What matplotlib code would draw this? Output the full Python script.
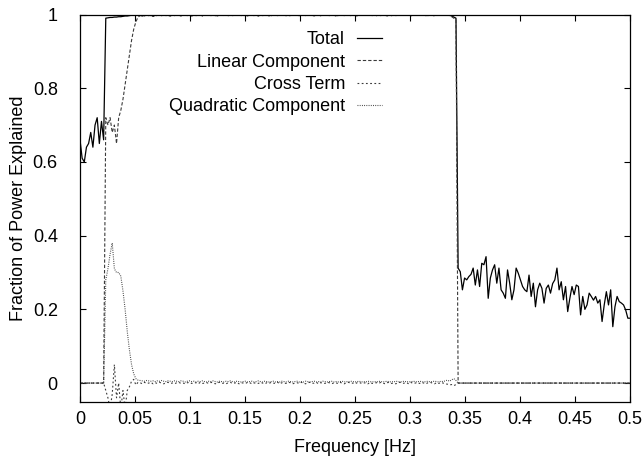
import numpy as np
import matplotlib
matplotlib.use("Agg")
import matplotlib.pyplot as plt

plt.rcParams['font.family'] = ['Liberation Sans', 'DejaVu Sans']

# ---------------- data ----------------
freq = np.arange(257) / 512.0          # Hz, 0 ... 0.5

total_low = [0.66, 0.61, 0.60, 0.64, 0.65, 0.68, 0.64, 0.70, 0.72, 0.65, 0.71, 0.66]
total_mid = [
    0.990, 0.991, 0.992, 0.992, 0.993, 0.993, 0.994, 0.994, 0.995, 0.996, 0.996, 0.997, 0.998, 0.998, 0.999, 0.999,
    0.998, 0.996, 0.999, 1.000, 0.997, 0.999, 0.995, 0.998, 1.000, 0.999, 0.997, 0.999, 1.000, 0.998, 0.996, 0.999,
    1.000, 0.998, 0.999, 0.997, 1.000, 0.999, 0.998, 1.000, 0.996, 0.999, 1.000, 0.998, 0.999, 0.997, 1.000, 0.999,
    0.998, 1.000, 0.999, 0.997, 0.999, 1.000, 0.998, 0.999, 1.000, 0.997, 0.999, 0.998, 1.000, 0.999, 0.998, 1.000,
    0.999, 0.997, 1.000, 0.999, 0.998, 1.000, 0.999, 0.996, 0.999, 1.000, 0.998, 0.999, 1.000, 0.997, 0.999, 1.000,
    0.998, 0.999, 1.000, 0.998, 0.997, 1.000, 0.999, 0.998, 1.000, 0.999, 0.997, 0.999, 1.000, 0.998, 0.999, 1.000,
    0.999, 0.998, 1.000, 0.999, 0.997, 0.999, 1.000, 0.998, 0.999, 1.000, 0.998, 0.999, 0.997, 1.000, 0.999, 0.998,
    1.000, 0.999, 0.998, 1.000, 0.999, 0.997, 1.000, 0.999, 0.998, 0.999, 1.000, 0.998, 0.999, 1.000, 0.997, 0.999,
    1.000, 0.998, 0.999, 1.000, 0.999, 0.997, 0.999, 1.000, 0.998, 0.999, 1.000, 0.999, 0.998, 1.000, 0.999, 0.998,
    0.999, 1.000, 0.998, 0.999, 1.000, 0.997, 0.999, 1.000, 0.998, 0.999, 1.000, 0.999, 0.998, 0.999, 1.000, 0.999,
    0.998, 0.996, 0.993, 0.990,
]
total_high = [
    0.312, 0.302, 0.253, 0.285, 0.280, 0.289, 0.295, 0.312, 0.266, 0.307,
    0.262, 0.325, 0.321, 0.343, 0.230, 0.285, 0.307, 0.321, 0.271, 0.312,
    0.253, 0.244, 0.230, 0.307, 0.271, 0.226, 0.253, 0.312, 0.298, 0.280,
    0.262, 0.253, 0.248, 0.293, 0.235, 0.271, 0.207, 0.253, 0.271, 0.257,
    0.217, 0.257, 0.266, 0.244, 0.270, 0.280, 0.312, 0.253, 0.275, 0.226,
    0.262, 0.194, 0.230, 0.262, 0.240, 0.266, 0.262, 0.185, 0.235, 0.200,
    0.212, 0.244, 0.235, 0.225, 0.235, 0.217, 0.226, 0.167, 0.212, 0.248,
    0.212, 0.253, 0.153, 0.207, 0.235, 0.221, 0.217, 0.212, 0.198, 0.176,
    0.176,
]

linear_rise = [0.72, 0.70, 0.72, 0.68, 0.70, 0.65, 0.72, 0.74, 0.77, 0.81, 0.85, 0.89, 0.93, 0.96, 0.98, 0.993]
linear_mid = [
    0.997, 0.998, 0.996, 0.999, 0.998, 0.997, 0.999, 0.998, 0.996, 0.999, 0.998, 0.999, 0.997, 0.998, 0.999, 0.998,
    0.997, 0.999, 0.998, 0.996, 0.999, 0.998, 0.997, 0.999, 0.998, 0.999, 0.997, 0.998, 0.999, 0.996, 0.998, 0.999,
    0.998, 0.997, 0.999, 0.998, 0.996, 0.999, 0.998, 0.997, 0.999, 0.998, 0.999, 0.997, 0.998, 0.999, 0.998, 0.997,
    0.999, 0.998, 0.996, 0.999, 0.998, 0.997, 0.999, 0.998, 0.999, 0.997, 0.998, 0.999, 0.996, 0.998, 0.999, 0.998,
    0.997, 0.999, 0.998, 0.999, 0.997, 0.998, 0.996, 0.999, 0.998, 0.997, 0.999, 0.998, 0.999, 0.997, 0.998, 0.999,
    0.998, 0.996, 0.999, 0.998, 0.997, 0.999, 0.998, 0.999, 0.997, 0.998, 0.999, 0.996, 0.998, 0.999, 0.998, 0.997,
    0.999, 0.998, 0.997, 0.999, 0.998, 0.996, 0.999, 0.998, 0.997, 0.999, 0.998, 0.999, 0.997, 0.998, 0.999, 0.998,
    0.997, 0.999, 0.998, 0.996, 0.999, 0.998, 0.999, 0.997, 0.998, 0.999, 0.998, 0.997, 0.999, 0.998, 0.996, 0.999,
    0.998, 0.999, 0.997, 0.998, 0.999, 0.998, 0.997, 0.999, 0.998, 0.996, 0.999, 0.998, 0.997, 0.999, 0.998, 0.999,
    0.997, 0.994, 0.990, 0.985,
]

cross_rise = [-0.02, -0.04, -0.07, -0.03, 0.05, -0.04, 0.00, -0.07, -0.02, -0.07, -0.02, -0.01, 0.005, 0.010, -0.005, 0.002]
cross_mid = [
    0.001, -0.002, 0.002, -0.001, 0.000, 0.002, -0.002, 0.001, -0.001, 0.002, 0.000, -0.002, 0.001, 0.002, -0.001, 0.000,
    -0.002, 0.001, 0.002, -0.001, 0.000, -0.002, 0.001, 0.002, -0.001, 0.000, 0.001, -0.002, 0.002, -0.001, 0.000, 0.001,
    -0.001, 0.002, 0.000, -0.002, 0.001, 0.002, -0.001, 0.000, -0.002, 0.001, 0.002, -0.001, 0.000, 0.002, -0.002, 0.001,
    0.000, -0.001, 0.002, 0.001, -0.002, 0.000, 0.001, -0.001, 0.002, 0.000, -0.002, 0.001, -0.001, 0.002, 0.000, -0.001,
    0.002, -0.002, 0.001, 0.000, -0.001, 0.002, 0.001, -0.002, 0.000, 0.001, -0.001, 0.002, 0.000, -0.002, 0.001, 0.002,
    -0.001, 0.000, 0.002, -0.002, 0.001, 0.000, -0.001, 0.002, 0.001, -0.002, 0.000, 0.001, -0.001, 0.002, 0.000, -0.002,
    0.001, 0.002, -0.001, 0.000, -0.002, 0.001, 0.002, -0.001, 0.000, 0.001, -0.002, 0.002, -0.001, 0.000, 0.001, -0.001,
    0.002, 0.000, -0.002, 0.001, 0.002, -0.001, 0.000, -0.002, 0.001, 0.002, -0.001, 0.000, 0.001, -0.002, 0.002, -0.001,
    0.000, 0.001, -0.001, 0.002, 0.000, -0.002, 0.001, 0.002, 0.000, -0.002, 0.001, -0.001, 0.002, 0.000, -0.002, -0.003,
    -0.005, -0.004, -0.007, -0.004,
]

quad_rise = [0.28, 0.31, 0.35, 0.38, 0.31, 0.30, 0.30, 0.29, 0.25, 0.20, 0.14, 0.09, 0.05, 0.025, 0.012, 0.008]
quad_mid = [
    0.007, 0.006, 0.005, 0.007, 0.006, 0.005, 0.006, 0.004, 0.006, 0.005, 0.007, 0.005, 0.004, 0.006, 0.005, 0.004,
    0.006, 0.005, 0.004, 0.006, 0.005, 0.003, 0.005, 0.006, 0.004, 0.005, 0.003, 0.005, 0.004, 0.006, 0.004, 0.003,
    0.005, 0.004, 0.006, 0.004, 0.003, 0.005, 0.004, 0.003, 0.005, 0.004, 0.006, 0.004, 0.003, 0.005, 0.004, 0.003,
    0.004, 0.005, 0.003, 0.004, 0.005, 0.003, 0.004, 0.006, 0.004, 0.003, 0.005, 0.004, 0.003, 0.004, 0.005, 0.003,
    0.004, 0.003, 0.005, 0.004, 0.003, 0.005, 0.004, 0.003, 0.004, 0.005, 0.003, 0.004, 0.003, 0.005, 0.004, 0.003,
    0.004, 0.005, 0.003, 0.004, 0.003, 0.005, 0.004, 0.003, 0.004, 0.005, 0.003, 0.004, 0.003, 0.004, 0.005, 0.003,
    0.004, 0.003, 0.005, 0.004, 0.003, 0.004, 0.005, 0.003, 0.004, 0.003, 0.005, 0.004, 0.003, 0.004, 0.003, 0.005,
    0.004, 0.003, 0.004, 0.005, 0.003, 0.004, 0.003, 0.005, 0.004, 0.003, 0.004, 0.005, 0.003, 0.004, 0.003, 0.005,
    0.004, 0.003, 0.005, 0.004, 0.003, 0.004, 0.005, 0.003, 0.004, 0.005, 0.004, 0.003, 0.005, 0.004, 0.006, 0.008,
    0.005, 0.009, 0.012, 0.007,
]

n_low = len(total_low)
n_high = len(total_high)
total = np.array(total_low + total_mid + total_high)
linear = np.array([0.0] * n_low + linear_rise + linear_mid + [0.0] * n_high)
cross = np.array([0.0] * n_low + cross_rise + cross_mid + [0.0] * n_high)
quad = np.array([0.0] * n_low + quad_rise + quad_mid + [0.0] * n_high)

labels = ["Total", "Linear Component", "Cross Term", "Quadratic Component"]
xticks = [0, 0.05, 0.1, 0.15, 0.2, 0.25, 0.3, 0.35, 0.4, 0.45, 0.5]
xticklabels = ["0", "0.05", "0.1", "0.15", "0.2", "0.25", "0.3", "0.35", "0.4", "0.45", "0.5"]
yticks = [0, 0.2, 0.4, 0.6, 0.8, 1.0]
yticklabels = ["0", "0.2", "0.4", "0.6", "0.8", "1"]

# ---------------- plot ----------------
fig = plt.figure(figsize=(6.44, 4.62), dpi=100)
ax = fig.add_axes([80 / 644, 1 - 401.5 / 462, 550 / 644, 387 / 462])

n = min(len(freq), len(total))
ax.plot(freq[:n], total[:n], color="black", lw=0.9, label=labels[0])
ax.plot(freq[:n], linear[:n], color="#3a3a3a", lw=0.8, linestyle=(0, (3, 1.8)), label=labels[1])
ax.plot(freq[:n], cross[:n], color="#3a3a3a", lw=0.8, linestyle=(0, (1.6, 2.2)), label=labels[2])
ax.plot(freq[:n], quad[:n], color="#3a3a3a", lw=0.8, linestyle=(0, (0.8, 1.2)), label=labels[3])

ax.set_xlim(0, 0.5)
ax.set_ylim(-0.05, 1.0)
ax.set_xticks(xticks)
ax.set_xticklabels(xticklabels)
ax.set_yticks(yticks)
ax.set_yticklabels(yticklabels)
ax.tick_params(direction="in", top=True, right=True, length=4.5, width=0.8,
               labelsize=13)
ax.tick_params(axis="x", pad=7)
ax.tick_params(axis="y", pad=16)
for s in ax.spines.values():
    s.set_linewidth(0.9)

ax.set_xlabel("Frequency [Hz]", fontsize=13, labelpad=8)
ax.set_ylabel("Fraction of Power Explained", fontsize=13, labelpad=4)

leg = ax.legend(loc="upper right", bbox_to_anchor=(0.549, 0.957), frameon=False,
                markerfirst=False, fontsize=13, handlelength=1.4, handletextpad=0.65,
                labelspacing=0.3, borderpad=0, borderaxespad=0)

fig.savefig("out.png", dpi=100)
